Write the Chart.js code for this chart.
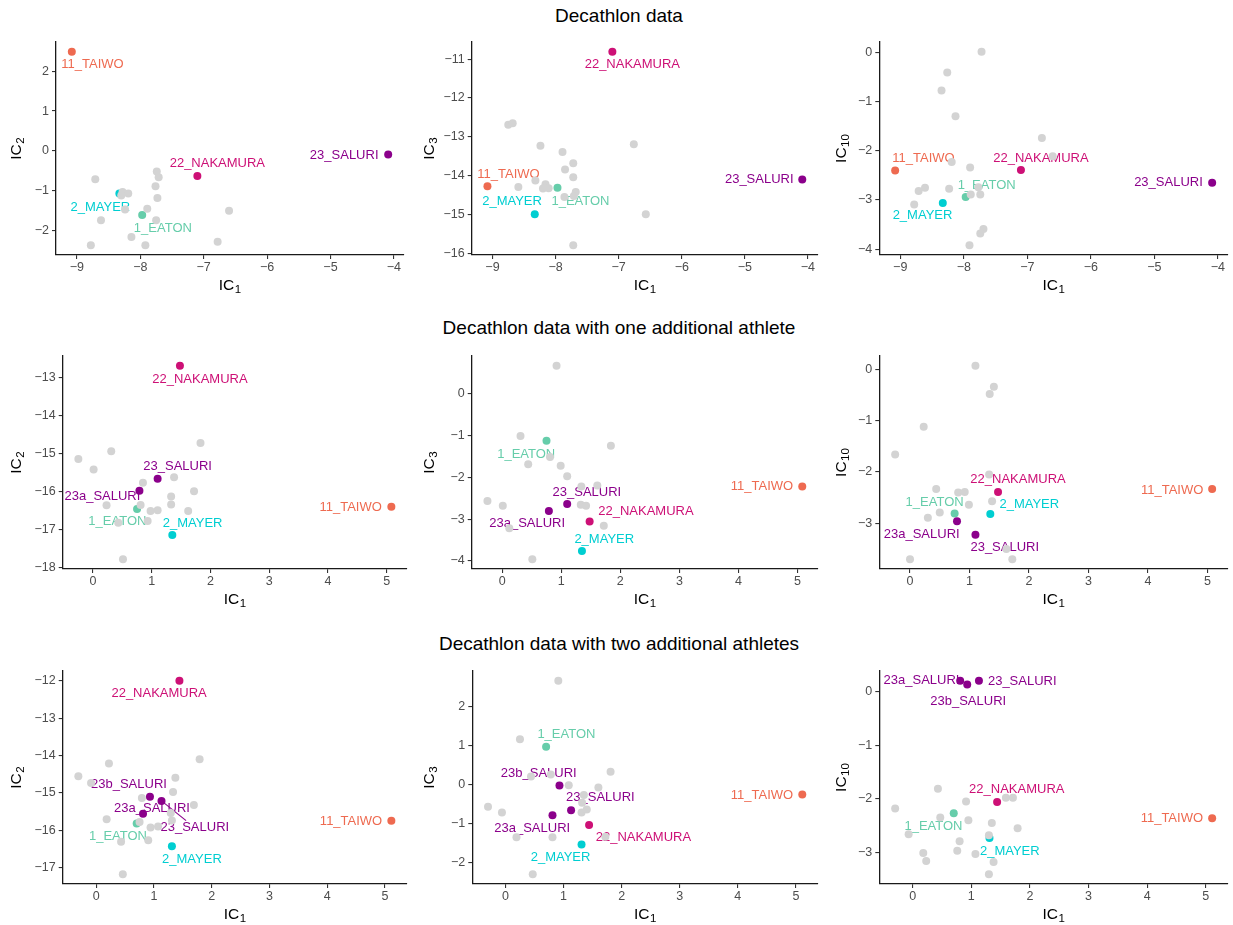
<!DOCTYPE html>
<html>
<head>
<meta charset="utf-8">
<script src="https://cdn.jsdelivr.net/npm/chart.js@4.4.1/dist/chart.umd.min.js"></script>
<style>
  body { margin: 0; background: #fff; width: 1233px; height: 925px; position: relative; overflow: hidden;
         font-family: "Liberation Sans", Arial, sans-serif; }
  .rowtitle { position: absolute; left: 0; width: 1238px; text-align: center; font-size: 19px;
              line-height: 20px; color: #000; }
  canvas { position: absolute; }
</style>
</head>
<body>
<div class="rowtitle" style="top:6px">Decathlon data</div>
<div class="rowtitle" style="top:318px">Decathlon data with one additional athlete</div>
<div class="rowtitle" style="top:634px">Decathlon data with two additional athletes</div>

<script>
// highlighted athletes
const athletes = ['1_EATON', '2_MAYER', '11_TAIWO', '22_NAKAMURA', '23_SALURI', '23a_SALURI', '23b_SALURI'];
const athleteColors = ['#66CDAA', '#00CED1', '#EE6A50', '#CD1076', '#8B008B', '#8B008B', '#8B008B'];

// row 1 : decathlon data
const row1IC1  = [-7.97, -8.33, -9.08, -7.10, -4.09];
const row1IC2  = [-1.61, -1.07, 2.49, -0.63, -0.09];
const row1IC3  = [-14.31, -14.99, -14.27, -10.81, -14.10];
const row1IC10 = [-2.94, -3.06, -2.40, -2.39, -2.65];

// row 2 : one additional athlete (23a)
const row2IC1  = [0.75, 1.35, 5.08, 1.48, 1.10, 0.79];
const row2IC2  = [-16.46, -17.14, -16.40, -12.69, -15.66, -15.98];
const row2IC3  = [-1.13, -3.76, -2.22, -3.06, -2.64, -2.81];
const row2IC10 = [-2.81, -2.82, -2.33, -2.39, -3.22, -2.96];

// row 3 : two additional athletes (23a, 23b)
const row3IC1  = [0.70, 1.31, 5.11, 1.44, 1.13, 0.81, 0.93];
const row3IC2  = [-15.81, -16.42, -15.74, -12.00, -15.21, -15.55, -15.10];
const row3IC3  = [0.96, -1.54, -0.26, -1.04, -0.66, -0.79, -0.03];
const row3IC10 = [-2.27, -2.73, -2.36, -2.06, 0.21, 0.21, 0.14];

// the other athletes (grey), [IC1, ICk]
const greyR1IC2 = [[-8.71,-0.71],[-7.74,-0.52],[-7.71,-0.66],[-7.76,-0.89],[-7.73,-1.18],[-8.28,-1.03],
  [-8.19,-1.07],[-8.30,-1.12],[-8.24,-1.47],[-7.89,-1.45],[-8.62,-1.74],[-7.75,-1.74],[-6.60,-1.50],
  [-8.14,-2.16],[-8.78,-2.37],[-7.92,-2.37],[-6.78,-2.28]];
const greyR1IC3 = [[-8.75,-12.69],[-8.68,-12.65],[-8.24,-13.23],[-7.89,-13.39],[-6.76,-13.19],[-7.72,-13.68],
  [-7.85,-13.84],[-7.72,-14.04],[-8.32,-14.12],[-8.59,-14.29],[-8.16,-14.22],[-8.20,-14.33],[-8.11,-14.32],
  [-7.86,-14.55],[-7.68,-14.42],[-7.71,-14.52],[-6.57,-14.99],[-7.72,-15.79]];
const greyR1IC10 = [[-7.72,0.01],[-8.26,-0.41],[-8.35,-0.78],[-8.13,-1.30],[-6.77,-1.74],[-8.19,-2.23],
  [-7.90,-2.34],[-6.60,-2.11],[-8.61,-2.75],[-8.71,-2.82],[-8.23,-2.77],[-7.77,-2.74],[-7.89,-2.89],
  [-7.74,-2.89],[-8.78,-3.09],[-7.69,-3.59],[-7.74,-3.68],[-7.91,-3.92]];
const greyR2IC2 = [[-0.25,-15.14],[0.01,-15.42],[0.31,-14.94],[1.83,-14.72],[0.85,-15.77],[1.38,-15.62],
  [0.23,-16.36],[0.81,-16.35],[0.98,-16.51],[1.10,-16.49],[1.33,-16.13],[1.33,-16.34],[1.62,-16.51],
  [1.72,-15.99],[0.93,-16.77],[0.43,-16.82],[0.51,-17.78]];
const greyR2IC3 = [[0.92,0.66],[0.31,-1.02],[1.84,-1.25],[0.81,-1.52],[0.44,-1.69],[0.99,-1.73],
  [1.10,-1.98],[1.34,-2.22],[1.61,-2.20],[-0.25,-2.57],[0.01,-2.68],[1.33,-2.66],[1.42,-2.68],
  [1.72,-3.16],[0.12,-3.22],[0.51,-3.96]];
const greyR2IC10 = [[1.10,0.07],[1.41,-0.34],[1.34,-0.48],[0.23,-1.12],[-0.25,-1.66],[1.33,-2.05],
  [0.44,-2.33],[0.81,-2.40],[0.92,-2.39],[0.99,-2.64],[1.38,-2.57],[0.50,-2.79],[0.30,-2.89],
  [1.62,-3.50],[1.72,-3.70],[0.00,-3.70]];
const greyR3IC2 = [[0.22,-14.21],[-0.31,-14.55],[-0.09,-14.73],[1.37,-14.59],[1.79,-14.10],[1.33,-14.97],
  [0.79,-15.13],[1.69,-15.32],[1.29,-15.53],[0.18,-15.70],[1.31,-15.73],[0.75,-15.77],[0.94,-15.92],
  [1.07,-15.89],[0.90,-16.26],[0.43,-16.30],[0.46,-17.17]];
const greyR3IC3 = [[0.91,2.65],[0.25,1.15],[1.81,0.32],[0.44,0.20],[0.78,0.25],[1.09,-0.02],[1.60,-0.08],
  [1.35,-0.27],[1.32,-0.47],[-0.30,-0.57],[-0.06,-0.72],[1.31,-0.72],[1.40,-0.64],[0.19,-1.35],
  [0.81,-1.35],[1.72,-1.34],[0.47,-2.30]];
const greyR3IC10 = [[0.43,-1.81],[-0.30,-2.18],[0.91,-2.05],[1.59,-1.98],[1.71,-1.98],[0.47,-2.35],
  [0.95,-2.40],[1.35,-2.45],[1.79,-2.55],[-0.07,-2.66],[1.30,-2.68],[0.80,-2.79],[0.18,-3.01],
  [0.76,-2.97],[1.07,-3.03],[0.23,-3.16],[1.38,-3.18],[1.30,-3.41]];

// tick labels
const ticksXRow1 = [-9, -8, -7, -6, -5, -4];
const ticksXRow23 = [0, 1, 2, 3, 4, 5];
const ticksR1IC2 = [-2, -1, 0, 1, 2];
const ticksR1IC3 = [-16, -15, -14, -13, -12, -11];
const ticksR1IC10 = [-4, -3, -2, -1, 0];
const ticksR2IC2 = [-18, -17, -16, -15, -14, -13];
const ticksR2IC3 = [-4, -3, -2, -1, 0];
const ticksR2IC10 = [-3, -2, -1, 0];
const ticksR3IC2 = [-17, -16, -15, -14, -13, -12];
const ticksR3IC3 = [-2, -1, 0, 1, 2];
const ticksR3IC10 = [-3, -2, -1, 0];

// label placement (pixel offsets of each label centre from its point)
const offP1 = [[20.7,13],[-19,14],[20.7,12.3],[20,-12.3],[-44,0.7]];
const offP2 = [[23,13.7],[-22.7,-13],[21,-11.3],[20,12.3],[-43,0]];
const offP3 = [[21,-11.7],[-20.3,12.3],[28.3,-11.7],[20,-12],[-43.7,0]];
const offP4 = [[-19.7,12.7],[20.3,-11.7],[-40.7,0.7],[20,13.3],[20,-12],[-37,5.3]];
const offP5 = [[-20.3,14],[22.3,-11.3],[-40.3,0],[56.3,-10.3],[19.7,-11.7],[-21.7,12]];
const offP6 = [[-20,-11],[39,-10],[-40,1],[20,-13],[29.3,12.7],[-35.3,13]];
const offP7 = [[-18.7,12.7],[20,12.7],[-40.3,1],[-20.3,12.7],[33.3,26.7,1],[9,-5],[-21,-12.3]];
const offP8 = [[20.3,-12],[-21,12.7],[-40.3,0.7],[54.3,12.3],[29.3,-12.7],[-20.3,13],[-20.7,-12]];
const offP9 = [[-20.3,13.3],[20.3,13],[-40.3,0],[19.7,-12.7],[43.3,0.3],[-38.7,0],[1,16.7]];

const colLeft = [0, 411, 822];
const yTitleX = [15, 428, 840];
const FONT = '"Liberation Sans", Arial, sans-serif';

const panels = [
  {col:0, sub:'2',  xs:row1IC1, ys:row1IC2,  grey:greyR1IC2,  xt:ticksXRow1,  yt:ticksR1IC2,  off:offP1, L:56,    R:404,   T:42,  B:255},
  {col:1, sub:'3',  xs:row1IC1, ys:row1IC3,  grey:greyR1IC3,  xt:ticksXRow1,  yt:ticksR1IC3,  off:offP2, L:471.7, R:819.5, T:42,  B:255},
  {col:2, sub:'10', xs:row1IC1, ys:row1IC10, grey:greyR1IC10, xt:ticksXRow1,  yt:ticksR1IC10, off:offP3, L:879.3, R:1228,  T:42,  B:255},
  {col:0, sub:'2',  xs:row2IC1, ys:row2IC2,  grey:greyR2IC2,  xt:ticksXRow23, yt:ticksR2IC2,  off:offP4, L:62.7,  R:410.5, T:356, B:569},
  {col:1, sub:'3',  xs:row2IC1, ys:row2IC3,  grey:greyR2IC3,  xt:ticksXRow23, yt:ticksR2IC3,  off:offP5, L:471.7, R:819.5, T:356, B:569},
  {col:2, sub:'10', xs:row2IC1, ys:row2IC10, grey:greyR2IC10, xt:ticksXRow23, yt:ticksR2IC10, off:offP6, L:879.3, R:1228,  T:356, B:569},
  {col:0, sub:'2',  xs:row3IC1, ys:row3IC2,  grey:greyR3IC2,  xt:ticksXRow23, yt:ticksR3IC2,  off:offP7, L:62.7,  R:410.7, T:671, B:884},
  {col:1, sub:'3',  xs:row3IC1, ys:row3IC3,  grey:greyR3IC3,  xt:ticksXRow23, yt:ticksR3IC3,  off:offP8, L:472.3, R:820,   T:671, B:884},
  {col:2, sub:'10', xs:row3IC1, ys:row3IC10, grey:greyR3IC10, xt:ticksXRow23, yt:ticksR3IC10, off:offP9, L:879.3, R:1228,  T:671, B:884}
];

function fmt(v) { return String(v).replace('-', '\u2212'); }

// "IC" with a subscript, starting at x on baseline y
function drawIC(ctx, sub, x, y) {
  ctx.font = '15.5px ' + FONT;
  ctx.fillText('IC', x, y);
  const w = ctx.measureText('IC').width;
  ctx.font = '11.5px ' + FONT;
  ctx.fillText(sub, x + w + 0.5, y + 3);
}
function icWidth(ctx, sub) {
  ctx.font = '15.5px ' + FONT;
  const w = ctx.measureText('IC').width;
  ctx.font = '11.5px ' + FONT;
  return w + 0.5 + ctx.measureText(sub).width;
}

function makePanel(p) {
  const left = colLeft[p.col];
  const top = p.T - 12;
  const width = 411;
  const height = p.B + 44 - top;
  const canvas = document.createElement('canvas');
  canvas.width = width;
  canvas.height = height;
  canvas.style.left = left + 'px';
  canvas.style.top = top + 'px';
  document.body.appendChild(canvas);

  // ggplot-like 5% expansion of the data range
  const allX = p.grey.map(d => d[0]).concat(p.xs);
  const allY = p.grey.map(d => d[1]).concat(p.ys);
  const x0 = Math.min(...allX), x1 = Math.max(...allX);
  const y0 = Math.min(...allY), y1 = Math.max(...allY);
  const ex = (x1 - x0) * 0.05, ey = (y1 - y0) * 0.05;

  const labels = {
    id: 'repelLabels',
    beforeDatasetsDraw(chart) {
      const ctx = chart.ctx;
      const xs = chart.scales.x, ys = chart.scales.y;
      ctx.save();
      ctx.font = '13px ' + FONT;
      ctx.textAlign = 'center';
      ctx.textBaseline = 'middle';
      p.xs.forEach((v, i) => {
        const px = xs.getPixelForValue(v), py = ys.getPixelForValue(p.ys[i]);
        const o = p.off[i];
        const lx = px + o[0], ly = py + o[1];
        ctx.fillStyle = athleteColors[i];
        if (o[2]) {
          // connector segment from the point to the label box
          const hw = ctx.measureText(athletes[i]).width / 2 + 1, hh = 7;
          const dx = lx - px, dy = ly - py;
          const t = 1 - Math.min(hw / Math.abs(dx), hh / Math.abs(dy));
          ctx.strokeStyle = athleteColors[i];
          ctx.lineWidth = 1.1;
          ctx.beginPath();
          ctx.moveTo(px, py);
          ctx.lineTo(px + dx * t, py + dy * t);
          ctx.stroke();
        }
        ctx.fillText(athletes[i], lx, ly);
      });
      ctx.restore();
    }
  };

  const axisTitles = {
    id: 'axisTitles',
    afterDraw(chart) {
      const ctx = chart.ctx, a = chart.chartArea;
      ctx.save();
      ctx.fillStyle = '#000';
      ctx.textAlign = 'left';
      ctx.textBaseline = 'alphabetic';
      const wx = icWidth(ctx, '1');
      drawIC(ctx, '1', (a.left + a.right) / 2 - wx / 2, a.bottom + 35);
      const wy = icWidth(ctx, p.sub);
      ctx.translate(yTitleX[p.col] - left + 5.5, (a.top + a.bottom) / 2);
      ctx.rotate(-Math.PI / 2);
      drawIC(ctx, p.sub, -wy / 2, 0);
      ctx.restore();
    }
  };

  const axisStyle = (ticks) => ({
    type: 'linear',
    bounds: 'data',
    afterBuildTicks: s => { s.ticks = ticks.map(v => ({ value: v })); },
    grid: { display: true, drawOnChartArea: false, drawTicks: true, tickLength: 4, color: '#333333', lineWidth: 1.1 },
    border: { display: true, color: '#1a1a1a', width: 1.3 },
    ticks: { color: '#4D4D4D', font: { family: FONT, size: 12.5 }, callback: v => fmt(v) }
  });

  const xAxis = Object.assign(axisStyle(p.xt), { min: x0 - ex, max: x1 + ex, afterFit: s => { s.height = 44; } });
  xAxis.ticks.padding = 1;
  xAxis.ticks.maxRotation = 0;
  const yAxis = Object.assign(axisStyle(p.yt), { min: y0 - ey, max: y1 + ey, afterFit: s => { s.width = p.L - left; } });
  yAxis.ticks.padding = 3;

  new Chart(canvas, {
    type: 'scatter',
    data: {
      datasets: [
        { // grey athletes are drawn last, on top
          data: p.grey.map(d => ({ x: d[0], y: d[1] })),
          backgroundColor: '#D3D3D3', borderWidth: 0, pointRadius: 4
        },
        {
          data: p.xs.map((v, i) => ({ x: v, y: p.ys[i] })),
          backgroundColor: p.xs.map((v, i) => athleteColors[i]), borderWidth: 0, pointRadius: 4
        }
      ]
    },
    options: {
      responsive: false,
      animation: false,
      events: [],
      layout: { padding: { top: 12, left: 0, bottom: 0, right: width - (p.R - left) } },
      plugins: { legend: { display: false }, tooltip: { enabled: false } },
      scales: { x: xAxis, y: yAxis }
    },
    plugins: [labels, axisTitles]
  });
}

panels.forEach(makePanel);
</script>
</body>
</html>
